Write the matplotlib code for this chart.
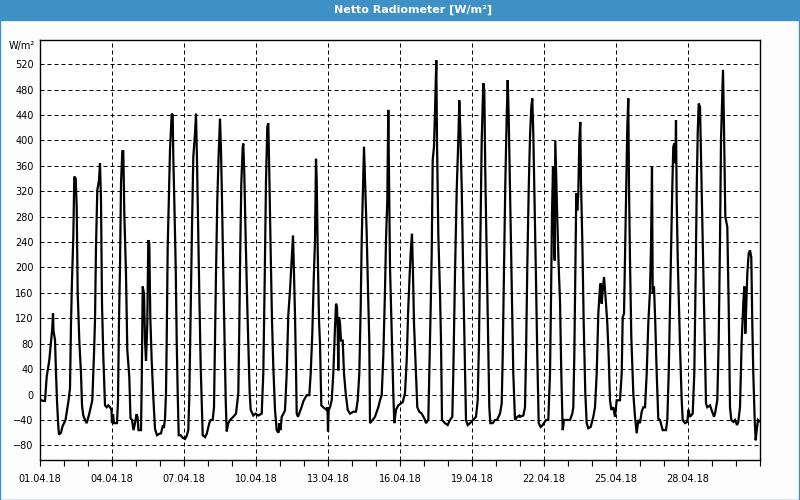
import matplotlib

matplotlib.use("Agg")
import matplotlib.dates as mdates
import matplotlib.pyplot as plt
import pandas as pd
from matplotlib.patches import Rectangle

TITLE = "Netto Radiometer [W/m²]"
UNIT = "W/m²"
START = "2018-04-01"
END = "2018-05-01"
Y_TICKS = list(range(-80, 521, 40))
LABEL_DAYS = pd.date_range(START, "2018-04-28", freq="3D")

# (hour of day, net radiation W/m²), one list per day
apr01 = [(0, -8), (3, -10), (5, -10), (6.7, 28), (9.3, 54), (11.7, 96), (12.3, 105), (13, 128), (13.5, 100),
         (15, 86), (16, 34), (17, -10), (18.3, -50), (19, -63), (21, -60), (22.5, -50)]
apr02 = [(1.5, -40), (3, -25), (4.5, -10), (6, 10), (7, 112), (8, 180), (9.3, 248), (10.3, 343), (11.7, 340),
         (12.7, 295), (13.7, 159), (15.3, 85), (17, 33), (18, -17), (19.3, -33), (21, -40), (22.7, -45)]
apr03 = [(1.3, -30), (2.7, -20), (4.3, -9), (6, 64), (7, 117), (8, 232), (9.3, 322), (11, 337), (12, 364),
         (13, 306), (14, 143), (15.3, 61), (17, -17), (18.7, -20), (20.3, -17), (22, -20), (23.5, -24)]
apr04 = [(0, -45), (1, -31), (2, -45), (5, -45), (6, -10), (7, 117), (8, 201), (9, 332), (10.3, 383),
         (11.3, 383), (12.3, 285), (14, 190), (15.3, 70), (17.3, 28), (18.5, -37), (20, -40), (21.5, -56),
         (23, -45)]
apr05 = [(0.5, -31), (1.5, -35), (2.5, -56), (5, -56), (5.7, 17), (6.7, 170), (8, 159), (9, 85), (10, 53),
         (11.3, 112), (12.3, 243), (13.3, 238), (14.3, 122), (15.7, 53), (17.3, -4), (19, -54), (21, -64),
         (23, -62)]
apr06 = [(1, -61), (2.7, -50), (4, -51), (5, -38), (6, 2), (6.7, 85), (7.7, 232), (9, 322), (10, 385),
         (11.7, 442), (12.7, 440), (13.3, 374), (14.3, 306), (15.7, 201), (16.7, 85), (17.7, 2), (18.7, -64),
         (20.7, -64), (22.7, -68)]
apr07 = [(1, -70), (2.7, -65), (4.3, -56), (5.3, -4), (6.7, 138), (8, 264), (9.3, 374), (11, 411), (12, 442),
         (13, 368), (14.3, 248), (15.3, 159), (16.7, 44), (17.7, -9), (18.7, -64), (21, -67), (22.7, -62)]
apr08 = [(1.3, -45), (2.7, -40), (4.7, -40), (6, -20), (7, 85), (8, 190), (9.3, 306), (10.7, 380), (12, 434),
         (13, 385), (14, 306), (15.3, 190), (16.7, 75), (17.7, -9), (18.7, -58), (20.3, -45), (22, -40)]
apr09 = [(1.3, -35), (4, -30), (6.3, 2), (7.3, 106), (8.3, 232), (9.3, 332), (10.7, 390), (11.3, 395),
         (12.3, 348), (13.7, 243), (15.3, 138), (16.7, 60), (17.7, 2), (18.7, -24), (21.3, -33), (23.5, -30)]
apr10 = [(2.3, -33), (5.7, -30), (7.3, 33), (8.7, 180), (10, 337), (11.3, 421), (12.3, 427), (13.3, 348),
         (14.7, 222), (16, 117), (17.3, 44), (19, -24), (20.7, -56), (22.5, -60), (23.5, -45)]
apr11 = [(0.5, -56), (1.7, -35), (3.5, -30), (5, -25), (6.7, 33), (8.3, 125), (10, 164), (11.7, 211),
         (13, 250), (13.7, 210), (15, 125), (16, 40), (16.7, -30), (18, -35), (21.5, -20), (23.5, -10)]
apr12 = [(2.7, -1), (5.3, -1), (6.7, 33), (8.3, 96), (9.7, 180), (11, 243), (12, 371), (12.7, 337),
         (13.7, 227), (15, 117), (16, 80), (17.3, -17), (19.3, -20), (22.5, -24), (23.5, -20)]
apr13 = [(0, -58), (0.7, -24), (2, -20), (3.7, -9), (5.3, 33), (7, 106), (8, 143), (9, 138), (9.7, 100),
         (10.3, 38), (11, 122), (12, 112), (13, 85), (14.7, 85), (16, 33), (17.7, 2), (19.7, -24), (22, -30)]
apr14 = [(1.3, -27), (4, -27), (5.7, -9), (7.3, 33), (8.7, 138), (9.7, 243), (10.7, 306), (12, 390),
         (13.3, 322), (14.7, 253), (16, 164), (17.3, 85), (18, -45), (20.7, -40), (23, -35)]
apr15 = [(2.3, -20), (4, -9), (5.7, -1), (7.3, 60), (9, 164), (10, 243), (11.3, 306), (12.3, 448),
         (13.3, 306), (14, 201), (15.7, 96), (17.3, 2), (18.3, -45), (20, -24), (22.3, -17)]
apr16 = [(0, -15), (2.7, -12), (5, 2), (6.7, 54), (8.3, 138), (10, 201), (11, 232), (12, 253), (13, 190),
         (14, 112), (15.7, 44), (17.3, -20), (19.3, -27), (21.7, -30), (23.5, -35)]
apr17 = [(1, -40), (2, -45), (4.3, -40), (5.3, 33), (6.7, 138), (7.7, 222), (8.7, 369), (10, 390),
         (11.3, 463), (12.3, 526), (13, 400), (14.3, 253), (16, 159), (17, 85), (18, -40), (21, -45),
         (23.7, -48)]
apr18 = [(2, -40), (4.3, -35), (5.3, 33), (7, 190), (8.7, 322), (10.3, 400), (11.3, 463), (12.3, 416),
         (13.7, 327), (15.3, 180), (17, 44), (18, -40), (19.7, -48), (22, -45)]
apr19 = [(1, -40), (4, -35), (5.7, -9), (7, 85), (8.3, 243), (9.7, 400), (11.3, 490), (12.3, 479),
         (13.3, 348), (14.7, 222), (16.3, 85), (17.3, -20), (18.3, -45), (20.7, -45), (23, -40)]
apr20 = [(1, -40), (4, -30), (5.7, -14), (6.7, 60), (8, 201), (9.3, 332), (10.7, 437), (11.7, 495),
         (12.7, 437), (14, 322), (15.7, 164), (17.3, 33), (19, -40), (21.3, -35), (23.5, -33)]
apr21 = [(0, -35), (3.3, -33), (5, -20), (6, 60), (7.3, 201), (8.7, 322), (10, 406), (11.3, 453),
         (12.3, 466), (13.3, 411), (14.7, 295), (16, 180), (17.3, 60), (18.7, -45), (20.7, -51), (22.7, -48)]
apr22 = [(2, -40), (4.3, -40), (6, 33), (7, 148), (8, 285), (9, 359), (10, 253), (10.7, 211), (11.3, 400),
         (12.3, 337), (13.3, 275), (14.7, 201), (16, 148), (17.3, 33), (18.7, -56), (20, -40), (22, -40)]
apr23 = [(2, -40), (4.3, -30), (5.3, -20), (6.3, 60), (7.3, 190), (8.3, 317), (9.3, 290), (10.3, 317),
         (11.3, 400), (12.3, 429), (13, 332), (14.3, 243), (15.7, 112), (17.3, 2), (18.7, -45), (20.3, -53),
         (22.7, -51)]
apr24 = [(1.3, -35), (3, -20), (4.7, 33), (6.3, 127), (8, 170), (8.7, 175), (9.7, 143), (10.7, 164),
         (12, 185), (13.3, 159), (15.3, 112), (16.7, 60), (18, -9), (19.3, -24), (21.3, -20), (23, -35)]
apr25 = [(0.7, -9), (4, -9), (5.7, 33), (6.7, 122), (8, 127), (9.3, 243), (10.3, 327), (11.3, 421),
         (12.3, 466), (13, 327), (14, 211), (15.3, 91), (17.3, 2), (19, -35), (20.7, -61), (22.3, -40)]
apr26 = [(0, -45), (1.7, -27), (3.3, -20), (5, -20), (6.7, 33), (8.3, 112), (10, 164), (11, 232), (12, 359),
         (12.7, 159), (14, 170), (15.3, 112), (16.7, 33), (18.3, -38), (20, -40), (22.7, -56)]
apr27 = [(2, -56), (3.3, -40), (4.7, 33), (6, 138), (7.3, 243), (8.3, 327), (9.3, 390), (10.3, 395),
         (11.3, 364), (12, 432), (12.7, 306), (13.7, 216), (15, 138), (16.3, 60), (17.7, -9), (18.7, -40),
         (21, -45), (23.3, -43)]
apr28 = [(0.5, -24), (2, -35), (4.7, -30), (6.3, 33), (7.7, 190), (8.7, 322), (9.7, 411), (10.7, 458),
         (12, 453), (13, 374), (14.3, 264), (15.7, 159), (17, 60), (18, -14), (19.3, -20), (22, -17),
         (23.5, -24)]
apr29 = [(2, -35), (3, -30), (5.3, -9), (6.7, 85), (8, 243), (9, 400), (10, 453), (11, 511), (12, 421),
         (13.3, 280), (15.3, 264), (16.7, 138), (18, -20), (19.3, -40), (21.3, -43), (23, -40)]
apr30 = [(1, -48), (2.3, -43), (4, -20), (5.7, 85), (7.3, 143), (8.3, 170), (9.3, 96), (10, 127),
         (11.3, 190), (12.7, 222), (14, 227), (15.3, 216), (16.3, 112), (17.3, 33), (18.7, -40), (19.7, -72),
         (20.7, -56), (22, -40), (23.5, -42)]

DAYS = [apr01, apr02, apr03, apr04, apr05, apr06, apr07, apr08, apr09, apr10,
        apr11, apr12, apr13, apr14, apr15, apr16, apr17, apr18, apr19, apr20,
        apr21, apr22, apr23, apr24, apr25, apr26, apr27, apr28, apr29, apr30]

BAR_BLUE = "#3d91c4"


def build_series() -> pd.Series:
    start = pd.Timestamp(START)
    times, values = [], []
    for day, readings in enumerate(DAYS):
        for hour, value in readings:
            times.append(start + pd.Timedelta(days=day, hours=hour))
            values.append(value)
    return pd.Series(values, index=pd.DatetimeIndex(times))


def main() -> None:
    series = build_series()

    fig = plt.figure(figsize=(8, 5), dpi=100, facecolor="#fcfdfc")
    # title bar and window frame
    fig.patches.append(Rectangle((0, 0.96), 1, 0.04, transform=fig.transFigure, facecolor=BAR_BLUE,
                                 edgecolor="none", zorder=0))
    fig.patches.append(Rectangle((0.0006, 0.001), 0.9984, 0.96, transform=fig.transFigure, facecolor="none",
                                 edgecolor=BAR_BLUE, linewidth=1.0, zorder=0))
    fig.text(0.516, 0.981, TITLE, color="white", fontsize=8, fontweight="bold", ha="center", va="center")

    ax = fig.add_axes((0.05, 0.08, 0.90, 0.84))
    ax.set_facecolor("white")
    ax.plot(series.index, series.values, color="black", linewidth=1.6, solid_joinstyle="miter")

    ax.set_xlim(pd.Timestamp(START), pd.Timestamp(END))
    ax.set_ylim(-103, 558)
    ax.set_yticks(Y_TICKS)
    ax.set_xticks(LABEL_DAYS)
    ax.xaxis.set_minor_locator(mdates.DayLocator())
    ax.xaxis.set_major_formatter(mdates.DateFormatter("%d.%m.%y"))

    ax.tick_params(axis="y", length=0, pad=4.5, labelsize=7)
    ax.tick_params(axis="x", which="both", direction="out", length=4, width=0.8, pad=6, labelsize=7)
    ax.grid(True, which="major", color="black", linewidth=0.72, linestyle=(0, (4, 3)))
    for spine in ax.spines.values():
        spine.set_linewidth(1.0)
        spine.set_color("black")

    fig.text(0.044, 0.908, UNIT, fontsize=7, ha="right", va="center")

    fig.savefig("out.png", dpi=100, facecolor=fig.get_facecolor())
    plt.close(fig)


if __name__ == "__main__":
    main()
